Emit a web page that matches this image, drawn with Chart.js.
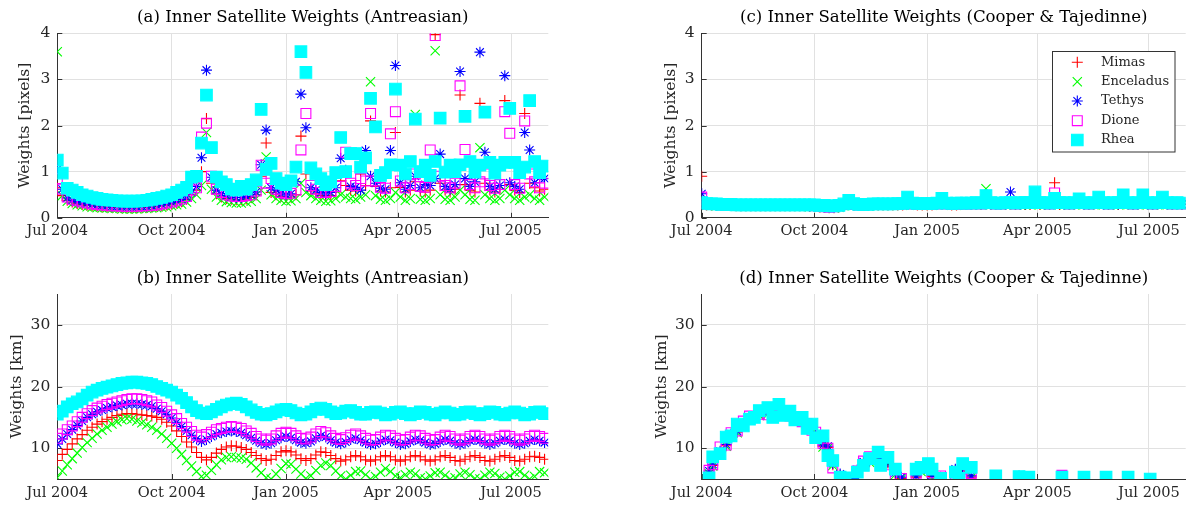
<!DOCTYPE html>
<html><head><meta charset="utf-8">
<script src="https://cdn.jsdelivr.net/npm/chart.js@4/dist/chart.umd.min.js"></script>
<style>
html,body{margin:0;padding:0;background:#fff;}
body{width:1195px;height:506px;position:relative;overflow:hidden;}
canvas{position:absolute;}
</style></head><body>
<canvas id="ca" width="597" height="253" style="left:0;top:0"></canvas>
<canvas id="cb" width="597" height="253" style="left:0;top:253px"></canvas>
<canvas id="cc" width="598" height="253" style="left:597px;top:0"></canvas>
<canvas id="cd" width="598" height="253" style="left:597px;top:253px"></canvas>
<script>
// ---- categories / ticks (days since 1 Jul 2004) ----
const days = [0,4,8,12,16,20,24,28,32,36, 40,44,48,52,56,60,64,68,72,76, 80,84,88,92,96,100,104,108,112,116,
 120,124,128,132,136,140,144,148,152,156, 160,164,168,172,176,180,184,188,192,196, 200,204,208,212,216,220,224,228,232,236,
 240,244,248,252,256,260,264,268,272,276, 280,284,288,292,296,300,304,308,312,316, 320,324,328,332,336,340,344,348,352,356,
 360,364,368,372,376,380,384,388,392];
const tickDays = [0, 92, 184, 274, 365];
const tickLabels = ['Jul 2004', 'Oct 2004', 'Jan 2005', 'Apr 2005', 'Jul 2005'];
const seriesNames = ['Mimas', 'Enceladus', 'Tethys', 'Dione', 'Rhea'];

// ---- (a) pixel weights, Antreasian ----
const aMimas = [0.65,0.48,0.38,0.34,0.31,0.29,0.27,0.26,0.25,0.24, 0.24,0.23,0.23,0.22,0.22,0.22,0.22,0.23,0.23,0.24,
 0.25,0.26,0.28,0.30,0.32,0.35,0.40,0.50,0.60,1.00, 2.15,0.75,0.52,0.45,0.42,0.40,0.39,0.39,0.41,0.44,
 0.50,0.90,1.62,0.55,0.50,0.46,0.44,0.45,0.50,1.77, 0.95,0.58,0.52,0.48,0.46,0.48,0.56,0.80,0.70,0.60,
 0.58,0.95,0.70,2.10,0.68,0.58,0.56,0.65,1.85,0.66, 0.56,0.60,0.78,0.58,0.56,0.60,3.97,0.75,0.60,0.56,
 0.62,2.66,0.72,0.60,0.56,2.48,0.75,0.60,0.56,0.62, 2.54,0.72,0.60,0.55,2.26,0.75,0.65,0.58,0.62];
const aEnceladus = [3.60,0.48,0.36,0.31,0.28,0.26,0.24,0.23,0.22,0.21, 0.21,0.20,0.20,0.19,0.19,0.19,0.19,0.20,0.20,0.21,
 0.22,0.23,0.24,0.26,0.28,0.30,0.34,0.42,0.50,0.70, 1.85,0.62,0.45,0.38,0.35,0.33,0.32,0.32,0.34,0.36,
 0.42,0.60,1.32,0.50,0.42,0.38,0.36,0.37,0.42,0.75, 0.55,0.48,0.42,0.38,0.36,0.37,0.42,0.50,0.45,0.42,
 0.40,0.45,0.50,2.95,0.48,0.40,0.38,0.42,0.55,0.45, 0.38,0.42,2.24,0.40,0.38,0.42,3.62,0.50,0.40,0.38,
 0.45,0.60,0.50,0.40,0.38,1.52,0.50,0.42,0.38,0.42, 0.60,0.50,0.42,0.38,0.45,0.50,0.42,0.38,0.45];
const aTethys = [1.05,0.62,0.43,0.38,0.35,0.33,0.31,0.29,0.28,0.27, 0.26,0.25,0.25,0.24,0.24,0.24,0.24,0.25,0.25,0.26,
 0.27,0.29,0.31,0.33,0.36,0.40,0.45,0.55,0.68,1.30, 3.20,0.88,0.60,0.52,0.48,0.45,0.44,0.44,0.46,0.50,
 0.56,1.15,1.90,0.65,0.60,0.52,0.50,0.52,0.78,2.68, 1.95,0.65,0.60,0.55,0.52,0.55,0.65,1.29,1.03,0.68,
 0.66,0.60,1.46,0.90,0.75,0.64,0.62,1.46,3.30,0.76, 0.62,0.70,0.90,0.65,0.72,0.70,0.85,1.38,0.68,0.62,
 0.72,3.17,0.85,0.68,0.78,3.59,1.42,0.68,0.62,0.70, 3.08,0.76,0.68,0.62,1.85,1.47,0.76,0.87,0.85];
const aDione = [0.85,0.62,0.45,0.40,0.37,0.34,0.32,0.30,0.29,0.28, 0.27,0.26,0.26,0.25,0.25,0.25,0.25,0.26,0.26,0.27,
 0.28,0.30,0.32,0.34,0.37,0.41,0.46,0.60,0.65,1.75, 2.05,0.90,0.62,0.55,0.50,0.47,0.46,0.46,0.48,0.50,
 0.58,1.14,0.75,0.85,0.62,0.55,0.52,0.53,0.60,1.47, 2.26,0.70,0.62,0.55,0.55,0.57,0.68,0.90,1.42,0.75,
 0.70,0.85,0.80,2.26,0.80,0.66,0.64,1.82,2.30,0.80, 0.65,0.72,0.95,0.68,0.66,1.47,3.95,0.90,0.70,0.65,
 0.75,2.86,1.48,0.72,0.65,0.78,0.95,0.70,0.64,0.72, 2.30,1.83,0.72,0.64,2.10,0.95,0.78,0.65,0.75];
const aRhea = [1.25,0.97,0.64,0.60,0.55,0.50,0.47,0.44,0.42,0.40, 0.39,0.38,0.37,0.36,0.36,0.36,0.36,0.37,0.38,0.40,
 0.42,0.44,0.47,0.50,0.55,0.60,0.66,0.88,0.90,1.62, 2.66,1.52,0.88,0.78,0.72,0.62,0.60,0.68,0.62,0.72,
 0.82,2.35,1.05,1.18,0.85,0.75,0.72,0.80,1.10,3.60, 3.15,1.08,0.95,0.85,0.72,0.78,0.98,1.74,1.00,1.39,
 1.39,1.10,1.30,2.59,1.97,0.92,0.98,1.15,2.79,1.14, 0.95,1.22,2.14,1.00,1.14,0.92,1.22,2.16,0.99,1.14,
 1.00,1.15,2.20,1.22,0.99,1.14,2.29,1.20,0.97,1.14, 1.20,2.37,1.20,0.98,1.10,2.54,1.22,0.98,1.12];

// ---- (b) km weights, Antreasian ----
const bMimas = [8.0,9.0,9.8,10.7,11.5,12.2,12.9,13.4,13.9,14.3, 14.7,15.0,15.3,15.5,15.6,15.6,15.5,15.4,15.3,15.2,
 15.0,14.7,14.2,13.6,12.8,11.9,11.0,10.2,9.3,8.5, 8.1,8.5,9.2,9.8,10.2,10.4,10.3,10.1,9.8,9.3,
 8.8,8.3,8.0,8.2,8.8,9.4,9.6,9.4,8.9,8.3, 8.0,8.3,8.9,9.4,9.3,8.8,8.3,7.9,8.1,8.6,
 8.8,8.6,8.1,7.9,8.1,8.6,8.8,8.6,8.1,7.9, 8.1,8.6,8.8,8.6,8.1,7.9,8.1,8.6,8.8,8.5,
 8.0,7.9,8.2,8.6,8.8,8.5,8.0,7.9,8.2,8.6, 8.8,8.5,8.0,7.9,8.2,8.6,8.7,8.5,8.2];
const bEnceladus = [5.2,6.3,7.3,8.3,9.2,10.1,10.9,11.6,12.3,12.9, 13.4,13.9,14.3,14.6,14.8,14.7,14.4,14.1,13.8,13.4,
 12.9,12.3,11.6,10.8,10.0,9.0,8.0,7.1,6.2,5.4, 5.6,6.4,7.3,8.1,8.5,8.6,8.5,8.4,8.2,7.6,
 6.8,6.0,5.2,5.0,5.8,6.7,7.5,7.4,6.6,5.8, 5.1,5.5,6.4,7.2,7.6,7.2,6.3,5.5,5.0,5.6,
 6.2,6.3,5.7,5.0,5.4,6.1,6.7,6.2,5.5,5.2, 5.7,6.1,5.8,5.2,5.0,5.5,6.0,6.1,5.6,5.0,
 5.2,5.8,6.1,5.7,5.1,5.0,5.6,6.1,5.9,5.3, 5.0,5.5,6.1,6.2,5.6,5.0,5.4,6.2,6.0];
const bTethys = [10.7,11.5,12.3,13.0,13.7,14.4,15.0,15.5,15.9,16.2, 16.5,16.7,16.9,17.0,17.2,17.2,17.2,17.1,17.0,16.8,
 16.4,16.0,15.5,14.9,14.2,13.5,12.8,12.1,11.5,11.1, 11.4,11.9,12.3,12.5,12.7,12.8,12.7,12.5,12.1,11.7,
 11.2,10.8,10.6,10.8,11.3,11.7,11.9,11.7,11.3,10.9, 10.8,11.1,11.6,12.0,11.8,11.3,10.9,10.7,11.0,11.4,
 11.6,11.3,10.9,10.6,10.7,11.1,11.4,11.3,10.9,10.6, 10.7,11.1,11.4,11.3,10.9,10.6,10.7,11.1,11.4,11.2,
 10.8,10.6,10.8,11.2,11.4,11.2,10.8,10.6,10.8,11.2, 11.4,11.2,10.8,10.6,10.8,11.2,11.4,11.2,10.9];
const bDione = [11.6,12.3,13.0,13.6,14.3,15.0,15.6,16.1,16.5,16.8, 17.1,17.3,17.5,17.7,17.9,18.0,18.0,17.9,17.7,17.5,
 17.0,16.6,16.0,15.4,14.8,14.0,13.4,12.7,12.1,11.8, 12.2,12.6,13.0,13.2,13.4,13.5,13.4,13.2,12.8,12.4,
 11.9,11.5,11.3,11.5,12.0,12.4,12.6,12.4,12.0,11.6, 11.5,11.8,12.3,12.7,12.5,12.0,11.6,11.4,11.7,12.1,
 12.3,12.0,11.6,11.3,11.4,11.8,12.1,12.0,11.6,11.3, 11.4,11.8,12.1,12.0,11.6,11.3,11.4,11.8,12.1,11.9,
 11.5,11.3,11.5,11.9,12.1,11.9,11.5,11.3,11.5,11.9, 12.1,11.9,11.5,11.3,11.5,11.9,12.1,11.9,11.6];
const bRhea = [15.5,16.0,16.7,17.2,17.5,18.0,18.6,19.1,19.4,19.7, 19.9,20.1,20.3,20.5,20.6,20.7,20.7,20.6,20.5,20.3,
 20.0,19.7,19.4,19.1,18.6,18.1,17.4,16.7,16.1,15.7, 15.6,15.9,16.3,16.7,17.0,17.2,17.3,17.1,16.7,16.2,
 15.8,15.5,15.4,15.6,15.9,16.2,16.3,16.1,15.7,15.4, 15.5,15.9,16.3,16.5,16.3,15.9,15.6,15.7,16.0,16.1,
 15.8,15.5,15.5,15.8,15.9,15.7,15.4,15.5,15.8,15.9, 15.6,15.4,15.6,15.9,15.8,15.5,15.4,15.7,15.9,15.7,
 15.4,15.5,15.8,15.9,15.6,15.4,15.6,15.9,15.8,15.5, 15.4,15.7,15.9,15.7,15.4,15.5,15.8,15.9,15.6];

// ---- (c) pixel weights, Cooper & Tajedinne ----
const cMimas = [0.90,0.28,0.28,0.27,0.27,0.27,0.27,0.26,0.26,0.26, 0.26,0.26,0.26,0.26,0.26,0.26,0.26,0.26,0.26,0.26,
 0.26,0.26,0.25,0.25,0.24,0.23,0.22,0.22,0.24,0.27, 0.31,0.28,0.27,0.27,0.27,0.28,0.28,0.28,0.28,0.28,
 0.28,0.28,0.33,0.29,0.28,0.28,0.28,0.28,0.29,0.32, 0.29,0.28,0.28,0.29,0.29,0.29,0.29,0.29,0.34,0.29,
 0.29,0.29,0.29,0.30,0.29,0.29,0.29,0.29,0.36,0.29, 0.29,0.29,0.76,0.29,0.29,0.29,0.29,0.32,0.29,0.29,
 0.29,0.33,0.29,0.29,0.29,0.29,0.35,0.29,0.29,0.29, 0.35,0.29,0.29,0.29,0.33,0.29,0.29,0.29,0.29];
const cEnceladus = [0.30,0.27,0.27,0.26,0.26,0.26,0.26,0.25,0.25,0.25, 0.25,0.25,0.25,0.25,0.25,0.25,0.25,0.25,0.25,0.25,
 0.25,0.25,0.24,0.24,0.23,0.22,0.21,0.21,0.23,0.26, 0.30,0.27,0.26,0.26,0.26,0.27,0.27,0.27,0.27,0.27,
 0.27,0.27,0.31,0.28,0.27,0.27,0.27,0.27,0.28,0.30, 0.28,0.27,0.27,0.28,0.28,0.28,0.28,0.28,0.63,0.28,
 0.28,0.28,0.28,0.29,0.28,0.28,0.28,0.28,0.33,0.28, 0.28,0.28,0.30,0.28,0.28,0.28,0.28,0.30,0.28,0.28,
 0.28,0.31,0.28,0.28,0.28,0.28,0.32,0.28,0.28,0.28, 0.32,0.28,0.28,0.28,0.30,0.28,0.28,0.28,0.28];
const cTethys = [0.52,0.30,0.29,0.29,0.28,0.28,0.28,0.27,0.27,0.27, 0.27,0.27,0.27,0.27,0.27,0.27,0.27,0.27,0.27,0.27,
 0.27,0.27,0.26,0.26,0.25,0.24,0.23,0.23,0.25,0.28, 0.34,0.29,0.28,0.28,0.28,0.29,0.29,0.29,0.29,0.29,
 0.29,0.29,0.38,0.30,0.29,0.29,0.29,0.30,0.30,0.36, 0.30,0.29,0.30,0.30,0.30,0.30,0.30,0.30,0.40,0.30,
 0.30,0.30,0.30,0.56,0.30,0.30,0.30,0.31,0.44,0.31, 0.30,0.30,0.40,0.31,0.30,0.30,0.31,0.36,0.30,0.30,
 0.31,0.38,0.30,0.30,0.31,0.30,0.42,0.31,0.30,0.30, 0.42,0.30,0.30,0.31,0.38,0.30,0.30,0.31,0.30];
const cDione = [0.45,0.30,0.29,0.29,0.28,0.28,0.28,0.28,0.28,0.28, 0.28,0.27,0.27,0.27,0.27,0.27,0.27,0.27,0.27,0.27,
 0.27,0.27,0.27,0.26,0.25,0.24,0.23,0.24,0.26,0.29, 0.33,0.29,0.28,0.28,0.29,0.29,0.29,0.29,0.29,0.29,
 0.29,0.30,0.36,0.30,0.29,0.29,0.30,0.30,0.30,0.34, 0.30,0.29,0.30,0.30,0.30,0.30,0.31,0.30,0.38,0.31,
 0.30,0.30,0.31,0.31,0.30,0.31,0.31,0.31,0.42,0.31, 0.31,0.30,0.54,0.31,0.31,0.30,0.31,0.35,0.31,0.30,
 0.31,0.36,0.31,0.30,0.31,0.31,0.40,0.31,0.30,0.31, 0.40,0.31,0.30,0.31,0.36,0.31,0.30,0.31,0.30];
const cRhea = [0.33,0.31,0.30,0.30,0.29,0.29,0.29,0.28,0.28,0.28, 0.28,0.28,0.28,0.28,0.28,0.28,0.28,0.28,0.28,0.28,
 0.28,0.28,0.28,0.28,0.27,0.27,0.26,0.26,0.27,0.30, 0.38,0.31,0.29,0.29,0.29,0.30,0.30,0.30,0.30,0.30,
 0.31,0.31,0.45,0.32,0.31,0.31,0.31,0.31,0.32,0.42, 0.32,0.31,0.32,0.32,0.32,0.32,0.33,0.32,0.48,0.33,
 0.32,0.32,0.33,0.33,0.32,0.33,0.33,0.33,0.56,0.33, 0.33,0.32,0.42,0.33,0.33,0.32,0.33,0.41,0.33,0.32,
 0.33,0.45,0.33,0.32,0.33,0.33,0.50,0.33,0.32,0.33, 0.50,0.33,0.32,0.33,0.45,0.33,0.32,0.33,0.32];

// ---- (d) km weights, Cooper & Tajedinne (visible samples) ----
const daysD = [6,9,15,20,24,29,34,39,43,47, 54,58,63,67,72,76,82,86,90,93, 99,103,107,113,117,124,127,132,137,144,
 146,152,158,163,175,179,185,188,195,207, 210,213,220,240,259,267,294,312,330,348, 366];
const dMimas = [6.0,7.2,9.3,10.4,12.1,12.6,13.8,14.8,15.1,15.4, 15.6,15.3,15.8,15.6,15.4,14.8,14.4,14.0,13.3,12.1,
 10.3,10.1,7.3,5.6,5.1,null,6.3,7.6,7.8,8.8, 8.0,7.6,5.8,5.1,5.3,6.3,6.8,5.4,5.1,6.4, 5.3,6.6,5.3,5.1,5.3,null,5.0,null,null,null, 5.0];
const dEnceladus = [5.9,7.1,9.2,10.3,12.0,12.5,13.7,14.7,15.0,15.3, 15.5,15.2,15.7,15.5,15.3,14.7,14.3,13.9,13.2,12.0,
 10.2,10.0,7.2,5.5,5.0,null,6.2,7.5,7.7,8.7, 7.9,7.5,5.7,5.0,5.2,6.2,6.7,5.3,5.0,6.3, 5.2,6.5,5.2,5.0,5.2,null,null,null,null,null, null];
const dTethys = [6.3,7.4,9.5,10.6,12.3,12.8,14.0,15.0,15.3,15.6, 15.8,15.5,16.0,15.8,15.6,15.0,14.6,14.2,13.5,12.3,
 10.5,10.3,7.5,5.8,5.2,5.1,6.5,7.8,8.0,9.0, 8.2,7.8,6.0,5.3,5.5,6.5,7.0,5.6,5.3,6.6, 5.5,6.8,5.5,5.3,5.5,null,5.2,null,null,null, null];
const dDione = [6.4,7.3,10.2,10.5,12.5,12.8,14.4,15.2,15.1,15.5, 15.4,15.3,15.6,15.7,15.2,14.9,14.3,14.0,12.9,12.6,
 10.8,10.0,6.8,5.2,5.1,null,6.3,7.9,8.6,8.8, 8.0,7.3,5.3,5.1,5.8,7.0,7.2,6.0,5.5,5.8, 6.0,6.6,5.9,5.4,5.4,5.2,5.6,5.2,5.3,5.2, 5.0];
const dRhea = [5.2,8.6,9.1,11.8,12.0,13.9,13.6,14.7,15.0,16.1, 16.6,15.0,17.1,15.3,16.0,14.6,15.0,13.2,13.9,11.7,
 12.0,8.8,8.0,5.3,5.2,null,6.1,7.2,8.3,9.35, 7.2,8.5,6.6,null,6.6,6.9,7.5,6.6,5.1,6.1, 5.1,7.5,6.9,5.5,5.4,5.3,5.3,5.3,5.3,5.3, 5.0];

// ---- styling ----
const FONT = "'DejaVu Serif', 'Liberation Serif', serif";
const GRID = '#e1e1e1';
const AXIS = '#333333';
Chart.defaults.font.family = FONT;
Chart.defaults.color = '#262626';
const seriesStyles = [
  {pointStyle: 'cross',    color: '#ff0000', radius: 5.5, fill: false, order: 5},
  {pointStyle: 'crossRot', color: '#00ff00', radius: 6.5, fill: false, order: 4},
  {pointStyle: 'star',     color: '#0000ff', radius: 5.5, fill: false, order: 3},
  {pointStyle: 'rect',     color: '#ff00ff', radius: 7,   fill: false, order: 2},
  {pointStyle: 'rect',     color: '#00ffff', radius: 8.2, fill: true,  order: 1}
];

function makeDatasets(xs, series) {
  return series.map((vals, k) => {
    const st = seriesStyles[k];
    return {
      label: seriesNames[k],
      data: xs.map((x, i) => ({x: x, y: vals[i]})),
      showLine: false,
      order: st.order,
      pointStyle: st.pointStyle,
      pointRadius: st.radius,
      pointHoverRadius: st.radius,
      pointBorderWidth: 1.1,
      borderColor: st.color,
      pointBorderColor: st.color,
      backgroundColor: st.fill ? st.color : 'rgba(0,0,0,0)',
      pointBackgroundColor: st.fill ? st.color : 'rgba(0,0,0,0)'
    };
  });
}

const inwardTicks = {
  id: 'inwardTicks',
  beforeDatasetsDraw(chart) {
    const {ctx, chartArea: a, scales: {x, y}} = chart;
    ctx.save();
    ctx.strokeStyle = AXIS; ctx.lineWidth = 1;
    ctx.beginPath();
    x.ticks.forEach(t => { const px = Math.round(x.getPixelForValue(t.value)) + 0.5; ctx.moveTo(px, a.bottom); ctx.lineTo(px, a.bottom - 5); });
    y.ticks.forEach(t => { const py = Math.round(y.getPixelForValue(t.value)) + 0.5; ctx.moveTo(a.left, py); ctx.lineTo(a.left + 5, py); });
    ctx.stroke();
    ctx.restore();
  }
};

const legendRows = [62.3, 81.7, 101, 120.7, 140];
const legendBox = {
  id: 'legendBox',
  afterDraw(chart) {
    const ctx = chart.ctx;
    ctx.save();
    ctx.fillStyle = '#ffffff';
    ctx.fillRect(455.5, 51.5, 122.5, 100.5);
    ctx.strokeStyle = AXIS; ctx.lineWidth = 1;
    ctx.strokeRect(455.5, 51.5, 122.5, 100.5);
    seriesNames.forEach((name, k) => {
      const st = seriesStyles[k];
      ctx.strokeStyle = st.color;
      ctx.fillStyle = st.fill ? st.color : 'rgba(0,0,0,0)';
      ctx.lineWidth = 1.1;
      Chart.helpers.drawPoint(ctx, {pointStyle: st.pointStyle, radius: st.radius, rotation: 0, borderWidth: 1.1}, 480.3, legendRows[k]);
      ctx.fillStyle = '#262626';
      ctx.font = '13px ' + FONT;
      ctx.textAlign = 'left';
      ctx.textBaseline = 'middle';
      ctx.fillText(name, 504, legendRows[k]);
    });
    ctx.restore();
  }
};

function panel(id, cfg) {
  return new Chart(document.getElementById(id), {
    type: 'scatter',
    data: {datasets: makeDatasets(cfg.xs, cfg.series)},
    options: {
      responsive: false, animation: false, devicePixelRatio: 1, events: [],
      layout: {padding: {left: 0, top: 0, right: cfg.padR, bottom: 0}},
      plugins: {
        legend: {display: false}, tooltip: {enabled: false},
        title: {display: true, fullSize: false, text: cfg.title, color: '#000',
          font: {size: 16.6, weight: 'normal', family: FONT, lineHeight: 1.2},
          padding: {top: cfg.tTop, bottom: cfg.tBot}}
      },
      scales: {
        x: {
          type: 'linear', min: 0, max: 395,
          afterBuildTicks: s => { s.ticks = tickDays.map(v => ({value: v})); },
          afterFit: s => { s.height = cfg.xH; s.paddingLeft = 0; s.paddingRight = 0; },
          ticks: {callback: v => tickLabels[tickDays.indexOf(v)], maxRotation: 0, minRotation: 0, autoSkip: false,
                  padding: 5, color: '#262626', font: {size: 14.6}},
          grid: {color: GRID, drawTicks: false, lineWidth: 1},
          border: {display: true, color: AXIS, width: 1}
        },
        y: {
          type: 'linear', min: cfg.yMin, max: cfg.yMax,
          afterBuildTicks: s => { s.ticks = cfg.yTicks.map(v => ({value: v})); },
          afterFit: s => { s.width = cfg.yW; s.paddingTop = 0; s.paddingBottom = 0; },
          ticks: {padding: 7, color: '#262626', font: {size: 15.5}},
          grid: {color: GRID, drawTicks: false, lineWidth: 1},
          border: {display: true, color: AXIS, width: 1},
          title: {display: true, text: cfg.yTitle, color: '#262626', font: {size: 15.5, lineHeight: 1.2},
                  padding: {top: cfg.ytPad, bottom: 0}}
        }
      }
    },
    plugins: [inwardTicks].concat(cfg.extra || [])
  });
}

panel('ca', {xs: days, series: [aMimas, aEnceladus, aTethys, aDione, aRhea], yMin: 0, yMax: 4, yTicks: [0,1,2,3,4],
  yTitle: 'Weights [pixels]', title: '(a) Inner Satellite Weights (Antreasian)',
  padR: 48.7, tTop: 7.5, tBot: 5.8, xH: 35.2, yW: 57.3, ytPad: 15.7});
panel('cb', {xs: days, series: [bMimas, bEnceladus, bTethys, bDione, bRhea], yMin: 5, yMax: 35, yTicks: [10,20,30],
  yTitle: 'Weights [km]', title: '(b) Inner Satellite Weights (Antreasian)',
  padR: 48.7, tTop: 15.3, tBot: 5.8, xH: 27, yW: 57.3, ytPad: 8});
panel('cc', {xs: days, series: [cMimas, cEnceladus, cTethys, cDione, cRhea], yMin: 0, yMax: 4, yTicks: [0,1,2,3,4],
  yTitle: 'Weights [pixels]', title: '(c) Inner Satellite Weights (Cooper & Tajedinne)',
  padR: 2.3, tTop: 7.5, tBot: 5.8, xH: 35.2, yW: 104.7, ytPad: 64.7, extra: [legendBox]});
panel('cd', {xs: daysD, series: [dMimas, dEnceladus, dTethys, dDione, dRhea], yMin: 5, yMax: 35, yTicks: [10,20,30],
  yTitle: 'Weights [km]', title: '(d) Inner Satellite Weights (Cooper & Tajedinne)',
  padR: 2.3, tTop: 15.3, tBot: 5.8, xH: 27, yW: 104.7, ytPad: 55.4});
</script>
</body></html>
